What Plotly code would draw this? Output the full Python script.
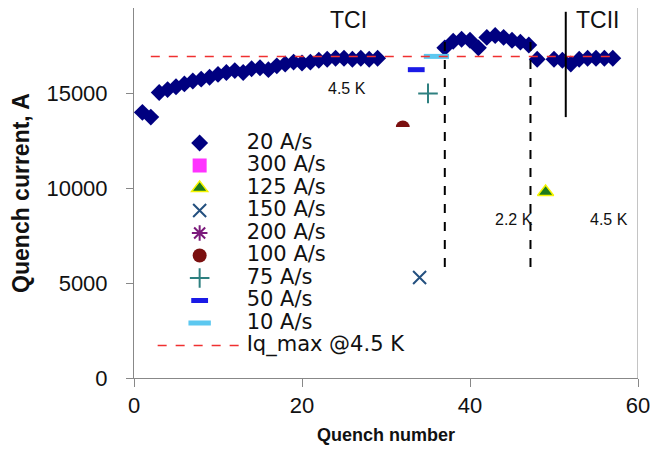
import plotly.graph_objects as go

# ---- data ----
q_20 = list(range(1, 30)) + list(range(37, 48)) + [48, 50, 51, 52, 53, 54, 55, 56, 57]
i_20 = [14000, 13750, 15050, 15200, 15350, 15500, 15650, 15750, 15850, 16000,
        16100, 16200, 16100, 16300, 16350, 16250, 16450, 16550, 16650, 16600,
        16650, 16750, 16800, 16850, 16850, 16800, 16850, 16800, 16850,
        17400, 17750, 17850, 17800, 17400, 17950, 18050, 17950, 17800, 17700, 17550,
        16800, 16800, 16750, 16550, 16800, 16850, 16850, 16850, 16850]
q_300, i_300 = [None], [None]
q_125, i_125 = [49], [9800]
q_150, i_150 = [34], [5300]
q_200, i_200 = [None], [None]
q_100, i_100 = [32], [13200]
q_75, i_75 = [35], [15000]
q_50, i_50 = [33.6], [16250]
q_10, i_10 = [36], [16950]
iq_max_x = [2, 57]
iq_max_y = [16950, 16950]

tc_boundary_x = [51.4, 51.4]
tc_boundary_y = [13750, 19300]
k22_left_x = [37, 37]
k22_right_x = [47.2, 47.2]
k22_y = [5850, 18100]

x_ticks = [0, 20, 40, 60]
y_ticks = [0, 5000, 10000, 15000]
y_ticktext = ["0", "5000", "10000", "15000"]

FONT = "Liberation Sans, Arial, Helvetica, sans-serif"
LEG_FONT = "DejaVu Sans, Verdana, sans-serif"
LEG = '<span style="font-size:21px">%s</span>'

fig = go.Figure()
fig.add_trace(go.Scatter(x=q_20, y=i_20, mode="markers", name=LEG % "20 A/s",
                         marker=dict(symbol="diamond", size=13, color="#000080")))
fig.add_trace(go.Scatter(x=q_300, y=i_300, mode="markers", name=LEG % "300 A/s",
                         marker=dict(symbol="square", size=14, color="#FF33FF")))
fig.add_trace(go.Scatter(x=q_125, y=i_125, mode="markers", name=LEG % "125 A/s",
                         marker=dict(symbol="triangle-up", size=14, color="#1E7A1E",
                                     line=dict(color="#F5F500", width=1.5))))
fig.add_trace(go.Scatter(x=q_150, y=i_150, mode="markers", name=LEG % "150 A/s",
                         marker=dict(symbol="x-thin-open", size=13, color="#24507F",
                                     line=dict(color="#24507F", width=2))))
fig.add_trace(go.Scatter(x=q_200, y=i_200, mode="markers", name=LEG % "200 A/s",
                         marker=dict(symbol="asterisk-open", size=13, color="#7B1A7B",
                                     line=dict(color="#7B1A7B", width=2))))
fig.add_trace(go.Scatter(x=q_100, y=i_100, mode="markers", name=LEG % "100 A/s",
                         marker=dict(symbol="circle", size=14, color="#7B1010")))
fig.add_trace(go.Scatter(x=q_75, y=i_75, mode="markers", name=LEG % "75 A/s",
                         marker=dict(symbol="cross-thin-open", size=14, color="#2E8080",
                                     line=dict(color="#2E8080", width=2))))
fig.add_trace(go.Scatter(x=q_50, y=i_50, mode="markers", name=LEG % "50 A/s",
                         marker=dict(symbol="line-ew-open", size=12, color="#1A1AE6",
                                     line=dict(color="#1A1AE6", width=5))))
fig.add_trace(go.Scatter(x=q_10, y=i_10, mode="markers", name=LEG % "10 A/s",
                         marker=dict(symbol="line-ew-open", size=18, color="#5CC8F0",
                                     line=dict(color="#5CC8F0", width=5))))
fig.add_trace(go.Scatter(x=iq_max_x, y=iq_max_y, mode="lines", name=LEG % "Iq_max @4.5 K",
                         line=dict(color="#F03030", width=1.5, dash="dash")))
# vertical markers of the test regions
fig.add_trace(go.Scatter(x=tc_boundary_x, y=tc_boundary_y, mode="lines", showlegend=False,
                         line=dict(color="black", width=2)))
fig.add_trace(go.Scatter(x=k22_left_x, y=k22_y, mode="lines", showlegend=False,
                         line=dict(color="black", width=2, dash="dash")))
fig.add_trace(go.Scatter(x=k22_right_x, y=k22_y, mode="lines", showlegend=False,
                         line=dict(color="black", width=2, dash="dash")))

ann = [
    dict(x=25.5, y=18850, text="TCI", size=23),
    dict(x=55.2, y=18850, text="TCII", size=23),
    dict(x=25.4, y=15250, text="4.5 K", size=16),
    dict(x=45.2, y=8350, text="2.2 K", size=16),
    dict(x=56.5, y=8350, text="4.5 K", size=16),
]
for a in ann:
    fig.add_annotation(x=a["x"], y=a["y"], text=a["text"], showarrow=False,
                       font=dict(family=FONT, size=a["size"], color="#111111"))

fig.add_shape(type="line", xref="x", yref="paper", x0=60, x1=60, y0=0, y1=1,
              line=dict(color="#888888", width=1))

fig.update_layout(
    width=658, height=452,
    margin=dict(l=134, r=13, t=8, b=74),
    paper_bgcolor="white", plot_bgcolor="white",
    font=dict(family=FONT, size=20, color="#111111"),
    showlegend=True,
    legend=dict(x=0.037, y=0.679, xanchor="left", yanchor="top",
                bgcolor="rgba(255,255,255,1)", borderwidth=0,
                font=dict(family=LEG_FONT, size=15, color="#111111"),
                tracegroupgap=0, itemwidth=84),
    xaxis=dict(range=[0, 60], tickvals=x_ticks, showgrid=False, zeroline=False,
               showline=True, linecolor="#888888", linewidth=1,
               ticks="outside", ticklen=8, tickcolor="#888888",
               tickfont=dict(size=22),
               title=dict(text="<b>Quench number</b>", font=dict(size=18), standoff=10)),
    yaxis=dict(range=[0, 19500], tickvals=y_ticks, ticktext=y_ticktext, showgrid=False,
               zeroline=False, showline=True, linecolor="#888888", linewidth=1,
               ticks="outside", ticklen=7, tickcolor="#888888",
               ticklabelstandoff=14,
               tickfont=dict(size=22),
               title=dict(text="<b>Quench current, A</b>", font=dict(size=23), standoff=10)),
)

fig.write_html("out.html", config={"displayModeBar": False},
               post_script="document.body.style.margin='0';")
